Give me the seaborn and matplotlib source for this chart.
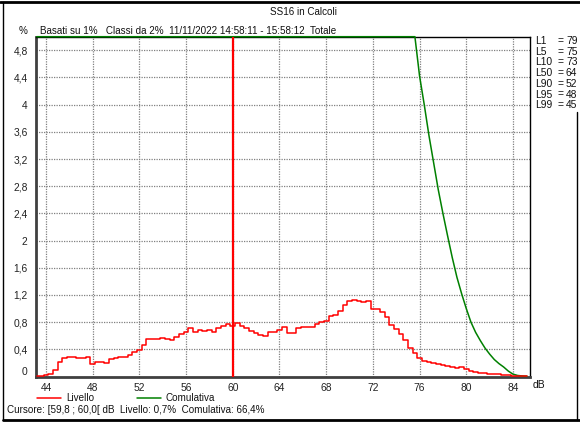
import numpy as np
import pandas as pd
import matplotlib
matplotlib.use("Agg")
import matplotlib.pyplot as plt
from matplotlib.lines import Line2D
from matplotlib.ticker import FuncFormatter
import seaborn as sns

# ---- data ----
db_levels = [round(43.2 + 0.4 * i, 1) for i in range(106)]
livello = [
    0.01, 0.01, 0.02, 0.037, 0.096, 0.218, 0.277, 0.29, 0.28, 0.268,
    0.268, 0.287, 0.19, 0.21, 0.214, 0.204, 0.253, 0.268, 0.28, 0.29,
    0.317, 0.366, 0.39, 0.464, 0.552, 0.552, 0.55, 0.572, 0.55, 0.53,
    0.587, 0.62, 0.65, 0.709, 0.66, 0.685, 0.67, 0.685, 0.66, 0.72,
    0.744, 0.773, 0.744, 0.783, 0.744, 0.709, 0.675, 0.636, 0.61, 0.597,
    0.65, 0.66, 0.685, 0.734, 0.645, 0.645, 0.72, 0.734, 0.73, 0.725,
    0.768, 0.80, 0.82, 0.89, 0.90, 0.97, 1.053, 1.117, 1.127, 1.117,
    1.10, 1.117, 1.00, 1.00, 0.955, 0.88, 0.758, 0.695, 0.62, 0.538,
    0.415, 0.34, 0.268, 0.233, 0.218, 0.204, 0.184, 0.174, 0.155, 0.135,
    0.125, 0.135, 0.105, 0.08, 0.066, 0.056, 0.046, 0.036, 0.03, 0.036,
    0.02, 0.015, 0.01, 0.006, 0.004, 0.002,
]
comulativa = [
    100.0, 99.9, 99.8, 99.6, 99.3, 99.0, 98.5, 98.0, 97.5, 97.0,
    96.4, 95.8, 95.2, 94.6, 94.0, 93.3, 92.6, 91.9, 91.1, 90.3,
    89.5, 88.6, 87.6, 86.5, 85.3, 84.0, 82.7, 81.4, 80.1, 78.8,
    77.4, 76.0, 74.5, 73.0, 71.5, 70.0, 68.5, 67.2, 66.4, 65.0,
    63.5, 62.0, 60.5, 59.0, 57.5, 56.0, 54.5, 53.0, 51.5, 50.0,
    48.5, 47.0, 45.5, 44.0, 42.5, 41.0, 39.5, 38.0, 36.0, 34.0,
    32.0, 30.0, 28.0, 26.0, 24.0, 22.0, 20.0, 18.0, 16.0, 14.0,
    12.5, 11.0, 10.0, 9.0, 8.2, 7.5, 6.9, 6.4, 6.0, 5.6,
    5.3, 5.0, 4.42, 4.0, 3.55, 3.15, 2.75, 2.4, 2.07, 1.75,
    1.46, 1.22, 1.0, 0.8, 0.65, 0.53, 0.42, 0.33, 0.25, 0.19,
    0.14, 0.08, 0.035, 0.015, 0.008, 0.004,
]
cursor_db = 60.0
stat_labels = ["L1", "L5", "L10", "L50", "L90", "L95", "L99"]
stat_values = ["79", "75", "73", "64", "52", "48", "45"]
x_ticks = [44, 48, 52, 56, 60, 64, 68, 72, 76, 80, 84]
y_ticks = [0, 0.4, 0.8, 1.2, 1.6, 2.0, 2.4, 2.8, 3.2, 3.6, 4.0, 4.4, 4.8]

sns.set_theme(style="white")
plt.rcParams["font.family"] = ["Liberation Sans", "DejaVu Sans"]
FS = 7.1
TC = "#111111"

W, H = 580, 423
fig = plt.figure(figsize=(W / 100, H / 100), dpi=100)
fig.patch.set_facecolor("white")
ax = fig.add_axes([36 / W, 1 - 376.5 / H, 494 / W, (376.5 - 36.7) / H])
ax.set_facecolor("white")

df = pd.DataFrame({"dB": db_levels, "Livello": livello,
                   "Comulativa": np.clip(comulativa, 0, 5.0)})

sns.lineplot(data=df, x="dB", y="Comulativa", ax=ax, color="#008000",
             lw=1.1, estimator=None, sort=False, clip_on=False, zorder=3)
sns.lineplot(data=df, x="dB", y="Livello", ax=ax, color="#ff0000",
             lw=1.1, estimator=None, sort=False, drawstyle="steps-mid", zorder=4)
ax.axvline(cursor_db, color="#ff0000", lw=1.6, zorder=5)

ax.set_xlim(43.14, 85.46)
ax.set_ylim(0, 5.0)
ax.set_xticks(x_ticks)
ax.set_yticks(y_ticks)

def yfmt(v, pos):
    s = f"{v:.1f}"
    if s.endswith(".0"):
        s = s[:-2]
    return s.replace(".", ",")

ax.yaxis.set_major_formatter(FuncFormatter(yfmt))
ax.set_xlabel("")
ax.set_ylabel("")
ax.grid(True, color="#808080", linestyle=(0, (1, 1)), lw=0.9)
ax.tick_params(axis="both", direction="inout", length=6, width=0.8,
               colors="#404040", labelsize=FS + 0.3, labelcolor="#222222", pad=2)
ax.tick_params(axis="y", pad=3)
for side in ["left", "bottom"]:
    ax.spines[side].set_color("#404040")
    ax.spines[side].set_linewidth(2.0)
for side in ["top", "right"]:
    ax.spines[side].set_color("#000000")
    ax.spines[side].set_linewidth(1.0)
    ax.spines[side].set_visible(True)

fig.canvas.draw()
ylabels = ax.get_yticklabels()
ylabels[0].set_va("bottom")

def fx(px):
    return px / W

def fy(py):
    return 1 - py / H

# frame lines
fig.add_artist(Line2D([fx(0), fx(580)], [fy(2.5), fy(2.5)], color="black", lw=2.0))
fig.add_artist(Line2D([fx(3), fx(3)], [fy(2), fy(420)], color="black", lw=1.0))
fig.add_artist(Line2D([fx(3), fx(580)], [fy(420), fy(420)], color="black", lw=2.0))
fig.add_artist(Line2D([fx(577), fx(577)], [fy(112), fy(420)], color="black", lw=1.0))

# texts
fig.text(fx(303), fy(12), "SS16 in Calcoli", ha="center", va="center", fontsize=FS, color=TC)
fig.text(fx(23), fy(31), "%", ha="center", va="center", fontsize=FS, color=TC)
fig.text(fx(40), fy(31), "Basati su 1%   Classi da 2%  11/11/2022 14:58:11 - 15:58:12  Totale",
         ha="left", va="center", fontsize=FS, color=TC)
fig.text(fx(533), fy(385), "dB", ha="left", va="center", fontsize=FS + 0.3, color=TC)

for i, (lab, val) in enumerate(zip(stat_labels, stat_values)):
    y = 41 + i * 10.7
    fig.text(fx(535), fy(y), lab, ha="left", va="center", fontsize=FS + 0.3, color=TC)
    fig.text(fx(557), fy(y), "=", ha="left", va="center", fontsize=FS + 0.3, color=TC)
    fig.text(fx(566), fy(y), val, ha="left", va="center", fontsize=FS + 0.3, color=TC)

# legend
fig.add_artist(Line2D([fx(37), fx(61)], [fy(398), fy(398)], color="#ff0000", lw=1.1))
fig.text(fx(66), fy(398), "Livello", ha="left", va="center", fontsize=FS, color=TC)
fig.add_artist(Line2D([fx(137), fx(161)], [fy(398), fy(398)], color="#008000", lw=1.1))
fig.text(fx(166), fy(398), "Comulativa", ha="left", va="center", fontsize=FS, color=TC)
fig.text(fx(7), fy(410), "Cursore: [59,8 ; 60,0[ dB  Livello: 0,7%  Comulativa: 66,4%",
         ha="left", va="center", fontsize=FS, color=TC)

fig.savefig("out.png", dpi=100, facecolor="white")
